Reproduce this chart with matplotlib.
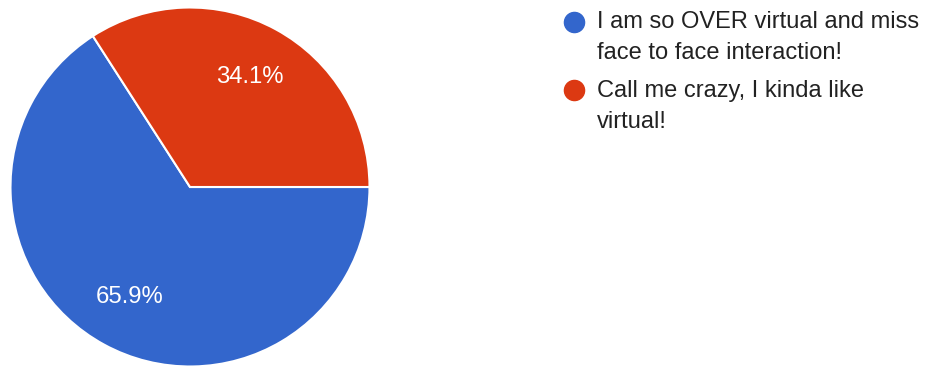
import matplotlib.pyplot as plt
from matplotlib.lines import Line2D

plt.rcParams['font.family'] = ['Liberation Sans', 'DejaVu Sans']

labels = ['I am so OVER virtual and miss\nface to face interaction!',
          'Call me crazy, I kinda like\nvirtual!']
shares = [65.9, 34.1]
colors = ['#3366CC', '#DC3912']

W, H = 928, 366
fig = plt.figure(figsize=(W / 100, H / 100), dpi=100)

# pie placed in pixel coordinates: centre (190, 187), radius ~180
cx, cy, r = 190, 187, 179.5
ax = fig.add_axes([(cx - r) / W, (H - cy - r) / H, 2 * r / W, 2 * r / H])
ax.pie(shares, colors=colors, startangle=0, counterclock=False,
       autopct='%1.1f%%', pctdistance=0.7,
       wedgeprops=dict(edgecolor='white', linewidth=1.5),
       textprops=dict(color='white', fontsize=17.2))
ax.set_xlim(-1, 1)
ax.set_ylim(-1, 1)
ax.axis('off')

# legend drawn by hand: coloured dot + wrapped label
dot_x, text_x = 574, 597
rows_y = [21.5, 90]
for lab, col, y in zip(labels, colors, rows_y):
    fig.add_artist(Line2D([dot_x / W], [1 - y / H], marker='o', markersize=14.5,
                          color=col, linestyle='none', transform=fig.transFigure))
    fig.text(text_x / W, 1 - (y - 10.5) / H, lab, fontsize=17, color='#222222',
             va='top', ha='left', linespacing=1.55)

fig.savefig('out.png', dpi=100, facecolor='white')
